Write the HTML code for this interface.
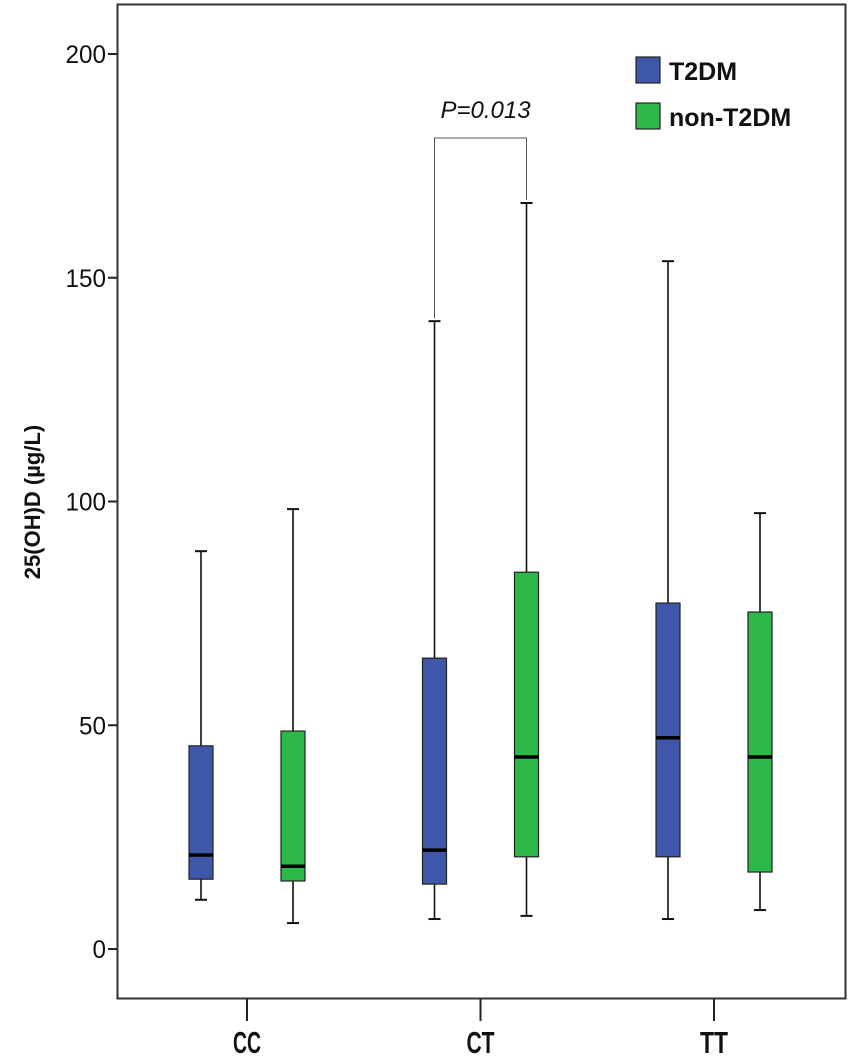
<!DOCTYPE html>
<html><head><meta charset="utf-8"><style>
body{margin:0;background:#fff}
svg text{font-family:"Liberation Sans",Arial,sans-serif}
</style></head><body>
<svg id="c" width="850" height="1057"></svg>
<script>
const categories=["CC","CT","TT"];
const seriesNames=["T2DM","non-T2DM"];
const t2dmStats=[[11,15.6,21,45.4,88.9],[6.7,14.5,22.1,65,140.3],[6.7,20.6,47.2,77.3,153.7]];
const nonT2dmStats=[[5.8,15.2,18.5,48.7,98.3],[7.4,20.6,42.9,84.2,166.7],[8.7,17.2,42.9,75.3,97.4]];
const yTicks=[0,50,100,150,200];
const pLabel="P=0.013";

const NS="http://www.w3.org/2000/svg";
const svg=document.getElementById('c');
function el(t,a,p){const e=document.createElementNS(NS,t);for(const k in a)e.setAttribute(k,a[k]);(p||svg).appendChild(e);return e;}
const y=v=>949-v*4.475;
const xc=i=>247+i*233.5;
const colors=["#3f57a8","#2db84a"];
const frame=el('rect',{x:117.5,y:4.5,width:728,height:994,fill:'none',stroke:'#333','stroke-width':2});


yTicks.forEach(v=>{
  const l=el('line',{x1:108,x2:117,y1:y(v),y2:y(v),stroke:'#222','stroke-width':2});
  
  
  const t=el('text',{x:106,y:y(v)+9,'text-anchor':'end','font-size':25,fill:'#111',textLength:String(v).length*13.5,lengthAdjust:'spacingAndGlyphs'});
  t.textContent=v;
  
  
});
const yl=el('text',{x:0,y:0,transform:'translate(40,502) rotate(-90)','text-anchor':'middle','font-size':22,'font-weight':'bold',fill:'#111'});
yl.textContent='25(OH)D (µg/L)';


categories.forEach((c,i)=>{
  const l=el('line',{x1:xc(i),x2:xc(i),y1:999,y2:1021,stroke:'#222','stroke-width':2});
  
  
  const t=el('text',{x:xc(i),y:1053,'text-anchor':'middle','font-size':31,'font-weight':'bold',fill:'#111',textLength:28,lengthAdjust:'spacingAndGlyphs'});
  t.textContent=c;
  
  
  [t2dmStats[i],nonT2dmStats[i]].forEach((s,j)=>{
    const cx=xc(i)+(j?46:-46);
    const g=el('g',{});
    
    
    el('line',{x1:cx,x2:cx,y1:y(s[4]),y2:y(s[0]),stroke:'#111','stroke-width':1.6},g);
    el('line',{x1:cx-6,x2:cx+6,y1:y(s[4]),y2:y(s[4]),stroke:'#111','stroke-width':2},g);
    el('line',{x1:cx-6,x2:cx+6,y1:y(s[0]),y2:y(s[0]),stroke:'#111','stroke-width':2},g);
    el('rect',{x:cx-12,y:y(s[3]),width:24,height:y(s[1])-y(s[3]),fill:colors[j],stroke:'#222','stroke-width':1.2},g);
    el('line',{x1:cx-12,x2:cx+12,y1:y(s[2]),y2:y(s[2]),stroke:'#000','stroke-width':3.5},g);
  });
});
const b1=xc(1)-46,b2=xc(1)+46;
const br=el('path',{d:`M${b1} ${y(t2dmStats[1][4])-3} V138 H${b2} V${y(nonT2dmStats[1][4])-3}`,fill:'none',stroke:'#555','stroke-width':1});


const pt=el('text',{x:(b1+b2)/2+5,y:118,'text-anchor':'middle','font-size':24,'font-style':'italic',fill:'#111'});
pt.textContent=pLabel;


seriesNames.forEach((n,j)=>{
  const g=el('g',{});
  
  
  el('rect',{x:636,y:57+j*46,width:24,height:26,fill:colors[j],stroke:'#222','stroke-width':1.2},g);
  const t=el('text',{x:669,y:80+j*46,'font-size':25,'font-weight':'bold',fill:'#111'},g);
  t.textContent=n;
});
</script>
</body></html>
